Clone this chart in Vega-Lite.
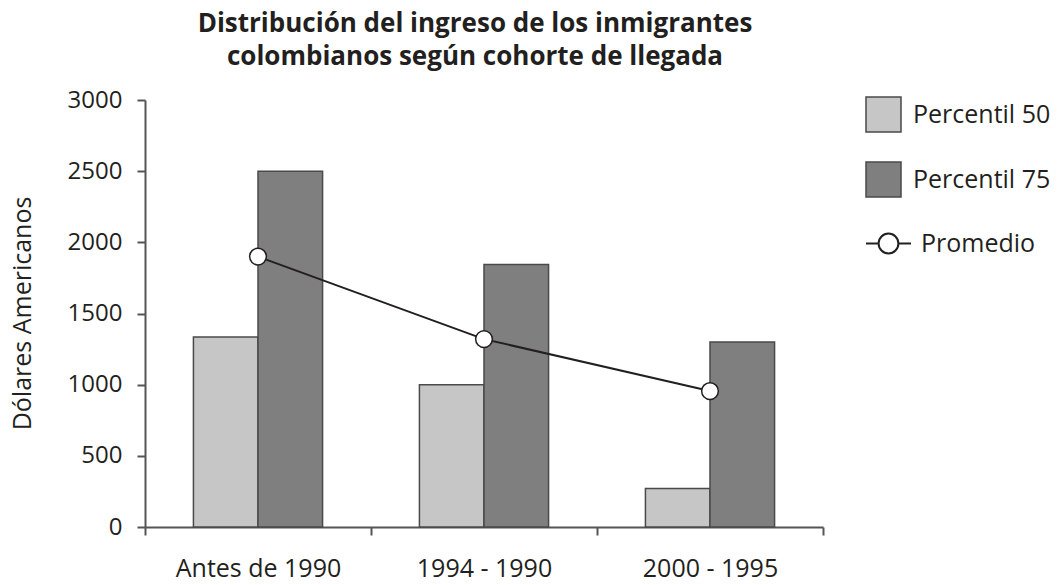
{
  "$schema": "https://vega.github.io/schema/vega-lite/v6.json",
  "autosize": {"type": "none"},
  "width": 678,
  "height": 427,
  "padding": {"left": 145, "top": 100, "right": 234, "bottom": 58},
  "background": "white",
  "config": {
    "font": "Open Sans",
    "view": {"stroke": null},
    "axis": {"labelFont": "Open Sans", "titleFont": "Open Sans", "labelColor": "#231f20", "titleColor": "#231f20", "domainColor": "#555555", "tickColor": "#555555", "domainWidth": 2, "tickWidth": 2, "grid": false}
  },
  "title": {
    "text": ["Distribución del ingreso de los inmigrantes", "colombianos según cohorte de llegada"],
    "font": "Open Sans",
    "fontSize": 26,
    "fontWeight": "bold",
    "color": "#231f20",
    "anchor": "middle",
    "frame": "group",
    "dx": -9,
    "lineHeight": 33,
    "baseline": "bottom",
    "offset": -8
  },
  "datasets": {
    "barras": [
      {"cohorte": "Antes de 1990", "serie": "Percentil 50", "valor": 1335},
      {"cohorte": "Antes de 1990", "serie": "Percentil 75", "valor": 2500},
      {"cohorte": "1994 - 1990", "serie": "Percentil 50", "valor": 1000},
      {"cohorte": "1994 - 1990", "serie": "Percentil 75", "valor": 1845},
      {"cohorte": "2000 - 1995", "serie": "Percentil 50", "valor": 270},
      {"cohorte": "2000 - 1995", "serie": "Percentil 75", "valor": 1300}
    ],
    "promedio": [
      {"cohorte": "Antes de 1990", "serie": "Promedio", "valor": 1900},
      {"cohorte": "1994 - 1990", "serie": "Promedio", "valor": 1320},
      {"cohorte": "2000 - 1995", "serie": "Promedio", "valor": 955}
    ]
  },
  "encoding": {
    "x": {
      "field": "cohorte",
      "type": "nominal",
      "sort": ["Antes de 1990", "1994 - 1990", "2000 - 1995"],
      "scale": {"paddingInner": 0, "paddingOuter": 0},
      "axis": {
        "title": null,
        "labelAngle": 0,
        "labelFontSize": 25,
        "tickBand": "extent",
        "tickSize": 8,
        "labelPadding": 21,
        "encode": {"ticks": {"update": {"y": {"value": -8}, "y2": {"value": 8}}}}
      }
    },
    "y": {
      "field": "valor",
      "type": "quantitative",
      "scale": {"domain": [0, 3000], "nice": false},
      "axis": {
        "title": "Dólares Americanos",
        "titleFontSize": 25,
        "titleFontWeight": "normal",
        "titleX": -123,
        "titleY": 213,
        "titleAngle": -90,
        "titleBaseline": "middle",
        "titleAlign": "center",
        "values": [0, 500, 1000, 1500, 2000, 2500, 3000],
        "format": "d",
        "labelFontSize": 24,
        "tickSize": 8,
        "labelPadding": 15,
        "encode": {"ticks": {"update": {"x": {"value": 7}, "x2": {"value": -8}}}}
      }
    }
  },
  "layer": [
    {
      "data": {"name": "barras"},
      "mark": {"type": "bar", "stroke": "#4a4a4a", "strokeWidth": 1.5},
      "encoding": {
        "xOffset": {"field": "serie", "type": "nominal", "scale": {"paddingInner": 0, "paddingOuter": 0.75}},
        "fill": {
          "field": "serie",
          "type": "nominal",
          "scale": {"domain": ["Percentil 50", "Percentil 75"], "range": ["#c6c6c6", "#7f7f7f"]},
          "legend": {
            "title": null,
            "orient": "none",
            "legendX": 720,
            "legendY": -4,
            "padding": 0,
            "symbolType": "square",
            "symbolSize": 1225,
            "symbolStrokeColor": "#4a4a4a",
            "symbolStrokeWidth": 1.5,
            "symbolOpacity": 1,
            "labelFont": "Open Sans",
            "labelFontSize": 25,
            "labelColor": "#231f20",
            "labelOffset": 11,
            "rowPadding": 24
          }
        }
      }
    },
    {
      "data": {"name": "promedio"},
      "mark": {"type": "line", "strokeWidth": 2},
      "encoding": {
        "stroke": {
          "field": "serie",
          "type": "nominal",
          "scale": {"domain": ["Promedio"], "range": ["#231f20"]},
          "legend": {
            "title": null,
            "orient": "none",
            "legendX": 720,
            "legendY": 120,
            "padding": 0,
            "symbolType": "M-1,0L-0.44,0M0.44,0L1,0M-0.44,0A0.44,0.44,0,1,1,0.44,0A0.44,0.44,0,1,1,-0.44,0Z",
            "symbolSize": 2025,
            "symbolStrokeWidth": 2,
            "symbolFillColor": "white",
            "labelFont": "Open Sans",
            "labelFontSize": 25,
            "labelColor": "#231f20",
            "labelOffset": 9,
            "encode": {"symbols": {"update": {"fill": {"value": "white"}, "stroke": {"value": "#231f20"}}}}
          }
        }
      }
    },
    {
      "data": {"name": "promedio"},
      "mark": {"type": "point", "shape": "circle", "filled": true, "fill": "white", "stroke": "#231f20", "strokeWidth": 1.5, "size": 280, "opacity": 1}
    }
  ]
}
